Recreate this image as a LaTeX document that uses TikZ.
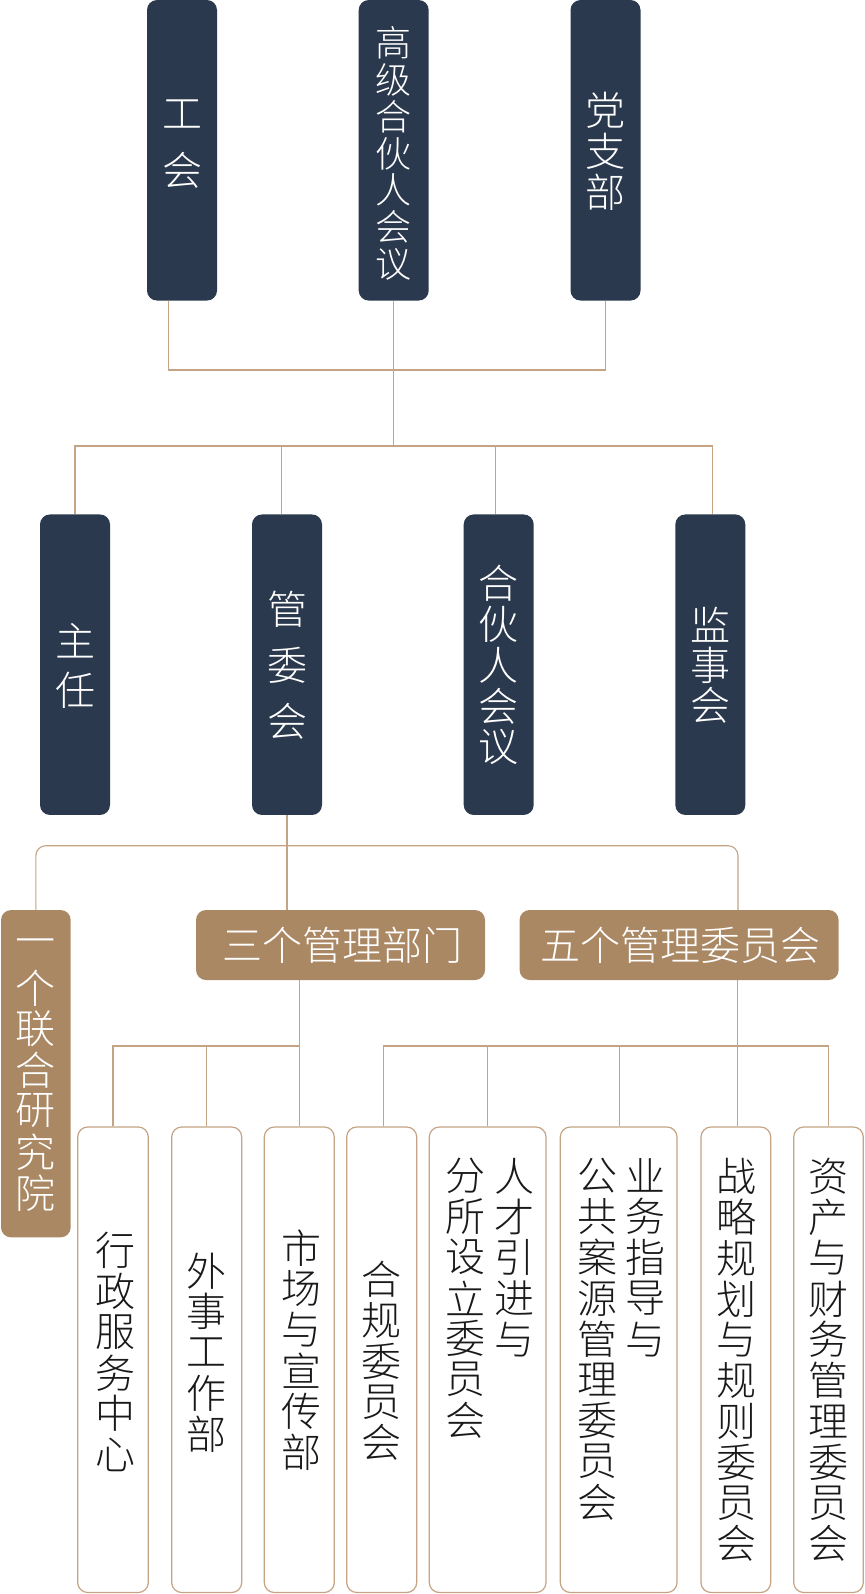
\documentclass[tikz,border=0pt]{standalone}
\usepackage{fontspec}
\IfFontExistsTF{Noto Sans CJK SC Light}{\newfontfamily\cjk{Noto Sans CJK SC Light}}{\newfontfamily\cjk{Noto Sans CJK SC}}
\definecolor{navyc}{RGB}{43,57,78}
\definecolor{tanc}{RGB}{170,136,100}
\definecolor{linec}{RGB}{196,164,132}
\definecolor{inkc}{RGB}{25,25,25}
\makeatletter
\newcommand\vstack[2]{\vbox{\offinterlineskip\@tfor\vst@c:=#2\do{\hbox to 1em{\hss\vbox to #1{\vss\hbox{\vst@c}\vss}\hss}}}}
\makeatother
\tikzset{
  navybox/.style={fill=navyc, rounded corners=10pt, minimum width=70pt, minimum height=300.5pt, inner sep=0pt},
  tanbox/.style={fill=tanc, rounded corners=10pt, inner sep=0pt, minimum height=70pt},
  wbox/.style={draw=linec, line width=1.2pt, fill=white, rounded corners=10pt, minimum height=465.5pt, inner sep=0pt},
  conn/.style={draw=linec, line width=1.1pt},
  wt/.style={text=white, inner sep=0pt, font=\cjk\fontsize{40}{40}\selectfont},
  wts/.style={text=white, inner sep=0pt, font=\cjk\fontsize{36}{36}\selectfont},
  bt/.style={text=inkc, inner sep=0pt, font=\cjk\fontsize{40}{40}\selectfont},
}
\begin{document}
\begin{tikzpicture}[x=1pt, y=-1pt]
\useasboundingbox[fill=white] (0,0) rectangle (864,1594);
% top row
\node[navybox] (gh)  at (182,150.3) {};
\node[navybox] (gj)  at (393.7,150.3) {};
\node[navybox] (dzb) at (605.5,150.3) {};
\node[wt]  (tgh)  at (182,142.3)   {\vstack{56.5pt}{工会}};
\node[wts] (tgj)  at (393.5,153.5) {\vstack{36.8pt}{高级合伙人会议}};
\node[wt]  (tdzb) at (605.3,151)   {\vstack{41pt}{党支部}};
% second row
\node[navybox] (zr)  at (75,664.7) {};
\node[navybox] (gwh) at (287,664.7) {};
\node[navybox] (hh)  at (498.7,664.7) {};
\node[navybox] (jsh) at (710.3,664.7) {};
\node[wt] (tzr)  at (75.3,665.3)  {\vstack{49.5pt}{主任}};
\node[wt] (tgwh) at (287.5,665.5) {\vstack{56pt}{管委会}};
\node[wt] (thh)  at (498.7,665)   {\vstack{41pt}{合伙人会议}};
\node[wt] (tjsh) at (710.3,665)   {\vstack{40.3pt}{监事会}};
% third row
\node[tanbox, minimum width=69.7pt, minimum height=327.3pt] (yg) at (35.85,1073.7) {};
\node[tanbox, minimum width=289pt] (sg) at (340.5,945) {};
\node[tanbox, minimum width=319pt] (wu) at (679.1,945) {};
\node[wt] (tyg) at (35.7,1070) {\vstack{41pt}{一个联合研究院}};
\node[wt] (tsg) at (342,945) {三个管理部门};
\node[wt] (twu) at (680.5,945) {五个管理委员会};
% bottom row
\node[wbox, minimum width=70.6pt]  (xz) at (113,1359.75) {};
\node[wbox, minimum width=70pt]    (ws) at (206.7,1359.75) {};
\node[wbox, minimum width=70pt]    (sc) at (299.3,1359.75) {};
\node[wbox, minimum width=70pt]    (hg) at (381.7,1359.75) {};
\node[wbox, minimum width=116.7pt] (rc) at (487.65,1359.75) {};
\node[wbox, minimum width=116.7pt] (yw) at (618.65,1359.75) {};
\node[wbox, minimum width=69.7pt]  (zl) at (735.85,1359.75) {};
\node[wbox, minimum width=69.6pt]  (zc) at (828.5,1359.75) {};
\node[bt] (txz)  at (115,1352.5)   {\vstack{40.8pt}{行政服务中心}};
\node[bt] (tws)  at (206.7,1352.5) {\vstack{40.8pt}{外事工作部}};
\node[bt] (tsc)  at (301.7,1350)   {\vstack{40.8pt}{市场与宣传部}};
\node[bt] (thg)  at (381.7,1361)   {\vstack{40.8pt}{合规委员会}};
\node[bt] (trca) at (514.4,1257.5) {\vstack{40.8pt}{人才引进与}};
\node[bt] (trcb) at (465.5,1298)   {\vstack{40.8pt}{分所设立委员会}};
\node[bt] (tywa) at (645.5,1257.5) {\vstack{40.8pt}{业务指导与}};
\node[bt] (tywb) at (597,1339)     {\vstack{40.8pt}{公共案源管理委员会}};
\node[bt] (tzl)  at (736.5,1360)   {\vstack{40.8pt}{战略规划与规则委员会}};
\node[bt] (tzc)  at (828,1360)     {\vstack{40.8pt}{资产与财务管理委员会}};
% connectors
\coordinate (j1) at (393.7,370);
\coordinate (j2) at (393.7,446);
\draw[conn] ([xshift=-13.7pt]gh.south) |- (j1) -| (dzb.south);
\draw[conn] (gj.south) -- (j2);
\draw[conn] (zr.north) |- (j2) -| ([xshift=2.4pt]jsh.north);
\draw[conn] ([xshift=-5.3pt]gwh.north) -- ([xshift=-5.3pt]gwh.north |- j2);
\draw[conn] ([xshift=-3.4pt]hh.north) -- ([xshift=-3.4pt]hh.north |- j2);
\coordinate (j3) at (287,845.7);
\draw[conn, rounded corners=10pt] (yg.north) |- (j3) -| ([xshift=58.9pt]wu.north);
\draw[conn] (gwh.south) -- (gwh.south |- sg.north);
\coordinate (j4) at (299.3,1046);
\draw[conn] ([xshift=-41.2pt]sg.south) -- (j4);
\draw[conn] (xz.north) |- (j4) -- (sc.north);
\draw[conn] (ws.north) -- (ws.north |- j4);
\coordinate (j5) at (737.5,1046);
\draw[conn] ([xshift=58.4pt]wu.south) -- ([xshift=58.4pt]wu.south |- zl.north);
\draw[conn] ([xshift=1.6pt]hg.north) |- (j5) -| (zc.north);
\draw[conn] (rc.north) -- (rc.north |- j5);
\draw[conn] ([xshift=0.8pt]yw.north) -- ([xshift=0.8pt]yw.north |- j5);
\end{tikzpicture}
\end{document}
